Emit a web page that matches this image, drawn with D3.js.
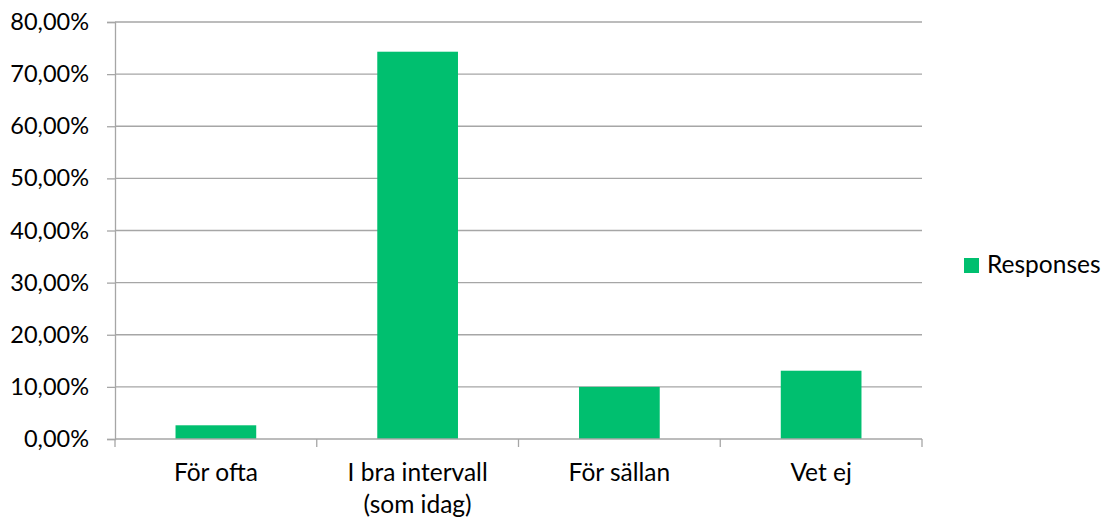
<!DOCTYPE html>
<html>
<head>
<meta charset="utf-8">
<script src="https://cdn.jsdelivr.net/npm/d3@7"></script>
<style>
  body { margin: 0; background: #fff; }
  text { font-family: Lato, "Open Sans", sans-serif; fill: #000; }
</style>
</head>
<body>
<div id="chart"></div>
<script>
var categories = [["För ofta"], ["I bra intervall", "(som idag)"], ["För sällan"], ["Vet ej"]];
var responses = [2.63, 74.3, 10.0, 13.1];
var yTicks = [0, 10, 20, 30, 40, 50, 60, 70, 80];
var seriesName = "Responses";

(function () {
    var width = 1105,
        height = 523,
        plotLeft = 115,
        plotRight = 922,
        plotTop = 22,
        plotBottom = 439;

    var green = "#00bf6f",
        gridColor = "#a6a6a6";

    var svg = d3.select("#chart").append("svg")
        .attr("width", width)
        .attr("height", height);

    var x = d3.scaleBand()
        .domain(d3.range(categories.length))
        .range([plotLeft, plotRight])
        .paddingInner(0.6)
        .paddingOuter(0.3);

    var xb = d3.scaleBand()
        .domain(d3.range(categories.length))
        .range([plotLeft, plotRight]);

    var y = d3.scaleLinear()
        .domain([0, 80])
        .range([plotBottom, plotTop]);

    var fmt = function (d) { return d.toFixed(2).replace(".", ",") + "%"; };

    // gridlines
    svg.append("g")
        .selectAll("line")
        .data(yTicks.slice(1))
        .enter().append("line")
        .attr("x1", plotLeft)
        .attr("x2", plotRight)
        .attr("y1", d => y(d))
        .attr("y2", d => y(d))
        .attr("stroke", gridColor)
        .attr("stroke-width", 1.3);

    // y axis
    var yAxis = svg.append("g")
        .attr("transform", "translate(" + plotLeft + ",0)")
        .call(d3.axisLeft(y).tickValues(yTicks).tickFormat(fmt).tickSize(8).tickPadding(18));
    yAxis.select(".domain").attr("stroke", gridColor).attr("stroke-width", 1.3);
    yAxis.selectAll(".tick line").attr("stroke", gridColor).attr("stroke-width", 1.3);
    yAxis.selectAll("text").style("font-size", "23.5px").attr("fill", "#000").attr("font-family", null);

    // bars
    svg.append("g")
        .selectAll("rect")
        .data(responses)
        .enter().append("rect")
        .attr("x", (d, i) => x(i))
        .attr("width", x.bandwidth())
        .attr("y", d => y(d))
        .attr("height", d => y(0) - y(d))
        .attr("fill", green);

    // x axis
    svg.append("line")
        .attr("x1", plotLeft).attr("x2", plotRight)
        .attr("y1", plotBottom).attr("y2", plotBottom)
        .attr("stroke", gridColor).attr("stroke-width", 1.3);

    var bounds = d3.range(categories.length + 1).map(i => i < categories.length ? xb(i) : plotRight);
    svg.append("g")
        .selectAll("line")
        .data(bounds)
        .enter().append("line")
        .attr("x1", d => d).attr("x2", d => d)
        .attr("y1", plotBottom).attr("y2", plotBottom + 8)
        .attr("stroke", gridColor).attr("stroke-width", 1.3);

    var labels = svg.append("g")
        .selectAll("text")
        .data(categories)
        .enter().append("text")
        .attr("x", (d, i) => xb(i) + xb.bandwidth() / 2)
        .attr("y", 481)
        .attr("text-anchor", "middle")
        .style("font-size", "24.5px");
    labels.selectAll("tspan")
        .data(d => d)
        .enter().append("tspan")
        .attr("x", function () { return d3.select(this.parentNode).attr("x"); })
        .attr("dy", (d, i) => i === 0 ? 0 : 31.5)
        .text(d => d);

    // legend
    var legend = svg.append("g");
    legend.append("rect")
        .attr("x", 964).attr("y", 258)
        .attr("width", 15).attr("height", 15)
        .attr("fill", green);
    legend.append("text")
        .attr("x", 987).attr("y", 273)
        .style("font-size", "24.5px")
        .text(seriesName);
})();
</script>
</body>
</html>
